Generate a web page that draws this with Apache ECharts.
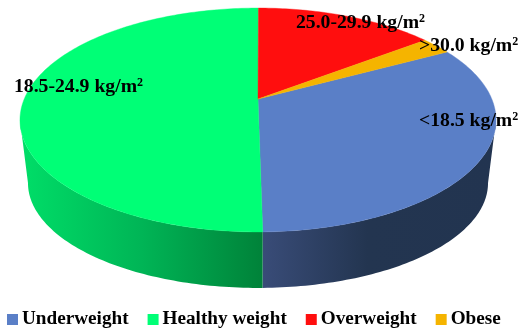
<!DOCTYPE html>
<html>
<head>
<meta charset="utf-8">
<style>html,body{margin:0;padding:0;background:#fff}#chart{width:529px;height:330px}</style>
<script src="https://cdn.jsdelivr.net/npm/echarts@6/dist/echarts.min.js"></script>
</head>
<body>
<div id="chart"></div>
<script>
// BMI class shares, percent
const categories = ['Underweight', 'Healthy weight', 'Overweight', 'Obese'];
const shares = [32.6, 50.3, 14.6, 2.5];
const rangeLabels = ['<18.5 kg/m', '18.5-24.9 kg/m', '25.0-29.9 kg/m', '>30.0 kg/m'];
const topColors = ['#5a7fc7', '#00ff76', '#ff0e0e', '#f5b400'];
const sideStops = [
  [[0, '#394c78'], [0.45, '#233550'], [1, '#223450']],
  [[0, '#00de68'], [0.5, '#00b556'], [1, '#008239']],
  [[0, '#a00000'], [1, '#a00000']],
  [[0, '#a07000'], [1, '#a07000']]
];

// Screen geometry of the tilted disc and its label anchors
const apex = { x: 258, y: 99 };
const skew = -0.1875, radiusX = 233.8, radiusY = 108;
const topEllipse = { x: 258, y: 120, rx: 238, ry: 112 };
const baseEllipse = { x: 258, y: 183, rx: 230, ry: 105 };
const firstAngle = 61.7;
const labelSpots = [[419, 121], [14, 87], [296, 23], [419, 46]];

const total = shares.reduce((a, b) => a + b, 0);

// Only this part of the rim faces the viewer: it runs between the disc's side extremes
const frontFrom = Math.acos(skew) * 180 / Math.PI;
const frontTo = 360 - frontFrom;

// Clockwise angle from twelve o'clock to its point on the rim, with perspective
function rimPoint(deg) {
  const t = deg * Math.PI / 180;
  const u = Math.sin(t), v = -Math.cos(t);
  const d = 1 + skew * v;
  return [apex.x + radiusX * u / d, apex.y + radiusY * v / d];
}
function basePoint(p) {
  return [
    baseEllipse.x + (p[0] - topEllipse.x) * baseEllipse.rx / topEllipse.rx,
    baseEllipse.y + (p[1] - topEllipse.y) * baseEllipse.ry / topEllipse.ry
  ];
}
function arc(from, to) {
  const steps = Math.max(2, Math.ceil(to - from));
  const pts = [];
  for (let s = 0; s <= steps; s++) pts.push(rimPoint(from + (to - from) * s / steps));
  return pts;
}

function makeSlice(index) {
  return function (params, api) {
    const value = api.value(0);
    let before = 0;
    for (let i = 0; i < index; i++) before += shares[i];
    const start = firstAngle + before / total * 360;
    const end = start + value / total * 360;
    const rim = arc(start, end);
    const color = topColors[index];
    const children = [];
    const sideFrom = Math.max(start, frontFrom), sideTo = Math.min(end, frontTo);
    if (sideTo > sideFrom) {
      const edge = arc(sideFrom, sideTo);
      children.push({
        type: 'polygon',
        z2: 1,
        shape: { points: edge.concat(edge.map(basePoint).reverse()) },
        style: {
          fill: {
            type: 'linear', x: 0, y: 0, x2: 1, y2: 0,
            colorStops: sideStops[index].map(s => ({ offset: s[0], color: s[1] }))
          }
        }
      });
    }
    children.push({
      type: 'polygon',
      z2: 2,
      shape: { points: [[apex.x, apex.y]].concat(rim) },
      style: { fill: color, stroke: color, lineWidth: 0.4 }
    }, {
      type: 'text',
      z2: 3,
      x: labelSpots[index][0],
      y: labelSpots[index][1],
      style: {
        text: '{t|' + rangeLabels[index] + '}{s|2}',
        verticalAlign: 'middle',
        rich: {
          t: { fontFamily: 'Liberation Serif', fontWeight: 'bold', fontSize: 19.7, fill: '#000', lineHeight: 20 },
          s: { fontFamily: 'Liberation Serif', fontWeight: 'bold', fontSize: 12, fill: '#000', verticalAlign: 'top', lineHeight: 20 }
        }
      }
    });
    return { type: 'group', children: children };
  };
}

const chart = echarts.init(document.getElementById('chart'), null, { renderer: 'canvas' });
chart.setOption({
  animation: false,
  backgroundColor: '#fff',
  legend: {
    left: 7,
    top: 310,
    padding: 0,
    itemWidth: 11,
    itemHeight: 11,
    itemGap: 19,
    icon: 'rect',
    selectedMode: false,
    textStyle: { fontFamily: 'Liberation Serif', fontWeight: 'bold', fontSize: 19.2, color: '#000', padding: [0, 0, 0, -1] },
    data: categories
  },
  series: categories.map((name, i) => ({
    type: 'custom',
    name: name,
    coordinateSystem: 'none',
    itemStyle: { color: topColors[i] },
    renderItem: makeSlice(i),
    data: [[shares[i]]]
  }))
});
</script>
</body>
</html>
